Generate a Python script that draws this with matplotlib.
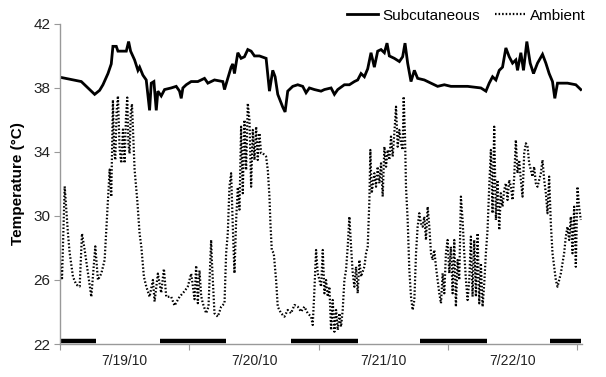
import matplotlib
matplotlib.use('Agg')
import numpy as np
import matplotlib.pyplot as plt

plt.rcParams['font.family'] = ['Liberation Sans', 'DejaVu Sans']

# hours since 7/19/10 00:00
sub_t = [0.0, 3.95, 5.81, 6.43, 7.35, 7.97, 8.90, 9.51, 9.82, 10.44, 10.75, 11.68, 12.30, 12.73,
         13.10, 13.84, 14.46, 14.77, 15.38, 16.00, 16.62, 16.93, 17.42, 17.86, 18.16, 18.78, 19.40,
         20.63, 21.56, 22.18, 22.49, 22.80, 23.42, 24.34, 25.57, 26.81, 27.43, 28.66, 30.21, 30.52,
         31.13, 31.75, 32.06, 32.37, 32.99, 33.60, 34.22, 34.84, 35.46, 36.08, 37.00, 38.24, 38.86,
         39.47, 39.91, 40.40, 41.33, 41.76, 42.25, 43.18, 44.11, 45.03, 45.65, 46.27, 47.20, 48.43,
         49.06, 50.29, 50.91, 51.53, 52.76, 53.69, 54.62, 55.23, 55.85, 56.47, 57.09, 57.70, 58.32,
         58.94, 59.56, 60.18, 60.67, 61.10, 62.03, 62.96, 63.57, 64.01, 64.50, 65.12, 65.74, 66.35,
         67.59, 68.82, 70.06, 71.30, 72.53, 73.15, 75.62, 78.09, 79.02, 79.63, 80.25, 80.87, 81.49,
         82.10, 82.72, 83.34, 83.96, 84.57, 84.88, 85.50, 85.99, 86.61, 87.23, 87.85, 88.59, 89.52,
         90.14, 90.75, 91.37, 91.80, 92.30, 93.22, 94.15, 95.70, 96.62]
sub_v = [38.67, 38.4, 37.8, 37.6, 37.85, 38.2, 38.9, 39.5, 40.6, 40.6, 40.3, 40.3, 40.3, 40.9,
         40.3, 39.75, 39.1, 39.3, 38.8, 38.5, 36.6, 38.3, 38.4, 36.6, 37.8, 37.5, 37.9,
         38.0, 38.1, 37.8, 37.35, 38.0, 38.2, 38.4, 38.4, 38.6, 38.3, 38.5, 38.4, 37.9,
         38.6, 39.3, 39.5, 38.9, 40.2, 39.85, 39.95, 40.4, 40.3, 40.0, 40.0, 39.85, 37.8,
         39.1, 38.7, 37.6, 36.8, 36.5, 37.8, 38.1, 38.2, 38.1, 37.7, 38.0, 37.9, 37.8,
         37.9, 38.0, 37.6, 37.9, 38.2, 38.2, 38.4, 38.5, 38.9, 38.7, 39.2, 40.2, 39.3,
         40.3, 40.4, 40.2, 40.8, 40.0, 39.85, 39.65, 39.95, 40.8, 39.55, 38.4, 39.1, 38.6,
         38.5, 38.3, 38.1, 38.2, 38.1, 38.1, 38.1, 38.0, 37.8, 38.3, 38.7, 38.5, 39.1,
         39.3, 40.5, 39.95, 39.55, 39.75, 39.1, 40.2, 39.1, 40.9, 39.55, 38.9, 39.55, 40.1,
         39.55, 38.9, 38.4, 37.35, 38.3, 38.3, 38.3, 38.2, 37.9]

amb_t = [0.0, 0.37, 0.87, 1.48, 1.79, 2.41, 3.03, 3.65, 4.08, 4.57, 5.19, 5.81, 6.55, 7.04, 7.66,
         8.28, 8.90, 9.21, 9.51, 9.82, 10.04, 10.26, 10.50, 10.75, 11.06, 11.37, 11.68, 11.99,
         12.24, 12.48, 12.70, 12.91, 13.13, 13.35, 13.84, 14.33, 14.77, 15.08, 15.57, 16.00,
         16.62, 17.24, 17.55, 18.16, 18.78, 19.28, 19.71, 20.63, 21.25, 22.18, 23.11, 23.72,
         24.34, 24.96, 25.26, 25.57, 25.88, 26.19, 26.50, 27.12, 27.55, 28.04, 28.17, 28.66,
         29.28, 29.90, 30.52, 30.82, 31.13, 31.44, 31.75, 32.06, 32.37, 32.68, 32.99, 33.30,
         33.60, 33.91, 34.22, 34.53, 34.84, 35.15, 35.46, 35.77, 36.08, 36.39, 36.69, 37.00,
         37.31, 37.62, 38.24, 38.55, 38.86, 39.04, 39.29, 39.66, 40.09, 40.40, 41.02, 41.64,
         42.25, 42.87, 43.49, 44.11, 44.73, 45.34, 45.96, 46.58, 46.89, 47.20, 47.51, 47.82,
         48.44, 48.75, 49.06, 49.36, 49.67, 49.98, 50.29, 50.60, 50.91, 51.22, 51.53, 51.84,
         52.14, 52.45, 52.76, 53.07, 53.38, 53.69, 54.00, 54.31, 54.62, 54.92, 55.23, 55.54,
         55.85, 56.47, 56.78, 57.09, 57.40, 57.58, 57.83, 58.32, 58.63, 58.94, 59.25, 59.56,
         59.87, 60.18, 60.49, 60.79, 61.10, 61.41, 61.72, 62.03, 62.34, 62.65, 62.96, 63.27,
         63.57, 63.76, 64.01, 64.19, 64.50, 64.81, 65.12, 65.43, 65.74, 66.05, 66.35, 66.66,
         66.97, 67.28, 67.59, 67.90, 68.21, 68.52, 68.83, 69.13, 69.44, 69.75, 70.06, 70.37,
         70.68, 70.99, 71.30, 71.60, 71.91, 72.22, 72.53, 72.84, 73.15, 73.45, 73.76, 74.07,
         74.38, 74.69, 75.00, 75.31, 75.62, 75.93, 76.23, 76.54, 76.85, 77.16, 77.47, 77.78,
         78.09, 78.40, 78.71, 79.01, 79.32, 79.63, 79.94, 80.25, 80.56, 80.87, 81.18, 81.49,
         81.79, 82.10, 82.41, 82.72, 83.03, 83.34, 83.65, 83.96, 84.27, 84.57, 84.88, 85.19,
         85.50, 85.81, 86.12, 86.43, 86.74, 87.05, 87.36, 87.66, 87.97, 88.28, 88.59, 88.90,
         89.21, 89.52, 89.83, 90.14, 90.44, 90.75, 91.06, 91.37, 91.68, 91.99, 92.30, 92.61,
         92.92, 93.22, 93.53, 93.84, 94.15, 94.46, 94.77, 95.08, 95.39, 95.70, 96.00, 96.31,
         96.62]
amb_v = [27.25, 26.0, 31.85, 28.9, 27.7, 26.2, 25.7, 25.6, 28.9, 27.9, 26.4, 24.95, 28.1, 26.0, 26.4,
         27.25, 31.0, 32.9, 31.2, 37.25, 34.0, 33.5, 36.5, 37.5, 34.2, 33.3, 35.4, 33.3,
         36.2, 37.4, 34.5, 33.9, 36.4, 37.0, 32.9, 31.0, 28.9, 28.1, 26.2, 25.6,
         24.95, 26.0, 24.65, 26.4, 25.2, 26.7, 24.95, 24.95, 24.4, 24.95, 25.3, 25.6,
         26.4, 24.8, 26.9, 24.55, 26.6, 25.0, 24.54, 23.92, 24.33, 28.5, 27.25, 23.92,
         23.71, 24.33, 24.54, 27.67, 28.92, 31.83, 32.67, 29.33, 26.42, 29.75, 31.8, 30.4,
         35.58, 31.42, 36.0, 32.875, 37.04, 36.0, 31.83, 35.375, 33.5, 35.58, 33.5, 35.17,
         33.92, 33.92, 33.71, 32.875, 31.21, 29.54, 27.875, 27.67, 26.0, 24.33, 23.92, 23.71,
         24.125, 23.92, 24.44, 24.33, 24.02, 24.33, 23.92, 23.71, 23.19, 25.375, 27.875, 26.42,
         25.58, 27.875, 25.17, 26.0, 24.96, 25.58, 22.875, 24.75, 22.77, 24.125, 22.875, 23.92,
         23.08, 24.125, 26.0, 26.625, 28.08, 29.96, 28.08, 26.42, 25.58, 26.83, 25.17, 27.25,
         26.21, 26.83, 27.67, 28.08, 31.0, 34.125, 31.42, 32.67, 31.83, 33.08, 32.04, 33.29,
         31.21, 34.33, 33.08, 34.125, 33.5, 34.96, 33.71, 35.17, 36.83, 34.33, 35.375, 34.54,
         34.125, 37.46, 34.96, 31.83, 29.75, 26.625, 24.96, 24.125, 24.75, 27.67, 29.33, 30.17,
         29.54, 29.33, 29.96, 28.5, 30.58, 29.33, 27.67, 27.25, 27.875, 26.83, 26.0, 25.17,
         24.54, 26.42, 25.17, 27.67, 28.5, 26.42, 28.08, 25.17, 28.5, 24.33, 27.25, 26.0,
         31.21, 29.75, 27.67, 26.0, 24.75, 26.0, 28.71, 24.96, 28.5, 24.96, 28.92, 24.54,
         27.04, 24.33, 25.79, 27.67, 29.125, 31.83, 34.125, 30.17, 35.58, 29.75, 32.25, 29.125,
         31.42, 30.58, 31.625, 32.04, 31.0, 32.25, 31.83, 31.0, 32.46, 34.75, 32.67, 33.5,
         32.25, 31.21, 33.92, 34.54, 34.33, 33.29, 32.875, 32.46, 33.08, 32.04, 31.83, 32.25,
         32.67, 33.5, 32.25, 31.42, 30.17, 32.46, 29.54, 27.67, 26.83, 26.0, 25.58, 26.0,
         26.42, 27.04, 27.67, 28.71, 29.33, 28.5, 29.96, 27.67, 30.58, 26.83, 31.83, 30.58,
         29.75]

# dark periods (black bars along the bottom)
night_start = [0.0, 18.5, 42.8, 66.7, 91.0]
night_end = [6.7, 30.8, 55.2, 79.3, 96.7]

day_ticks = [0, 24, 48, 72, 96]
day_labels = ['7/19/10', '7/20/10', '7/21/10', '7/22/10']

fig = plt.figure(figsize=(6.06, 3.77), dpi=100)
ax = fig.add_axes([0.099, 0.0875, 0.861, 0.849])

ax.plot(sub_t, sub_v, color='black', lw=2.0, solid_joinstyle='miter', label='Subcutaneous')
ax.plot(amb_t, amb_v, color='black', lw=1.6, linestyle=(0, (0.7, 0.9)), label='Ambient')
ax.hlines([22.17] * len(night_start), night_start, night_end, color='black', lw=3.2)

ax.set_xlim(0, 96.8)
ax.set_ylim(22, 42)
ax.set_yticks([22, 26, 30, 34, 38, 42])
ax.set_xticks(day_ticks)
ax.set_xticklabels([])
ax.set_xticks([12, 36, 60, 84], minor=True)
ax.set_xticklabels(day_labels, minor=True)
ax.tick_params(axis='x', which='minor', length=0, pad=7, labelsize=10, labelcolor='#222222')
ax.tick_params(axis='x', which='major', length=4, color='#999999', direction='out')
ax.tick_params(axis='y', length=4, color='#999999', labelsize=11, labelcolor='#222222', pad=3)

for s in ['top', 'right']:
    ax.spines[s].set_visible(False)
for s in ['left', 'bottom']:
    ax.spines[s].set_color('#999999')
    ax.spines[s].set_linewidth(1.0)

ax.set_ylabel('Temperature (°C)', fontsize=11, fontweight='bold', labelpad=6)

ax.legend(loc='lower right', bbox_to_anchor=(1.02, 0.985), ncol=2, frameon=False,
          fontsize=11, handlelength=2.0, columnspacing=1.0, handletextpad=0.3,
          borderaxespad=0)

fig.savefig('out.png', dpi=100)
